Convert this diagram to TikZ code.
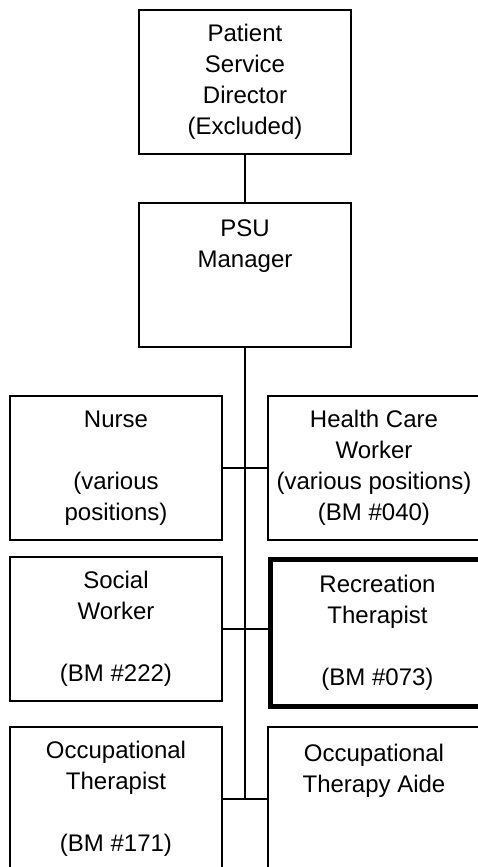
\documentclass[tikz,border=0pt]{standalone}
\usepackage{fontspec}
\setmainfont{Liberation Sans}
\begin{document}
\begin{tikzpicture}[x=1pt,y=-1pt,
	post/.style={draw,line width=1.4pt,rectangle,inner sep=0pt,align=center,
		minimum width=212pt,minimum height=144pt,font=\fontsize{24}{31}\selectfont},
	keypost/.style={post,line width=5pt,minimum width=215pt,minimum height=147.5pt},
	link/.style={line width=1.4pt}]
	\useasboundingbox (0,0) rectangle (478,867);
	\clip (0,0) rectangle (478,867);
	\node[post] (director) at (245,82) {Patient\\Service\\Director\\(Excluded)};
	\node[post] (manager) at (245,275) {PSU\\Manager\\~\\~};
	\node[post] (nurse) at (116,468) {Nurse\\ \\(various\\positions)};
	\node[post] (hcw) at (374,468) {Health Care\\Worker\\(various positions)\\(BM \#040)};
	\node[post] (social) at (116,629) {Social\\Worker\\ \\(BM \#222)};
	\node[keypost] (recreation) at (377.5,632.75) {Recreation\\Therapist\\ \\(BM \#073)};
	\node[post] (occther) at (116,799) {Occupational\\Therapist\\ \\(BM \#171)};
	\node[post] (occaide) at (374,799) {Occupational\\Therapy Aide\\~\\~};
	\coordinate (stemend) at (manager.south |- occther.east);
	\draw[link] (director) -- (manager); % director to manager
	\draw[link] (manager.south) -- (stemend); % main stem
	\draw[link] (nurse.east) -- (hcw.west);
	\draw[link] (social.east) -- (social.east -| recreation.west);
	\draw[link] (occther.east) -- (occaide.west);
\end{tikzpicture}
\end{document}
